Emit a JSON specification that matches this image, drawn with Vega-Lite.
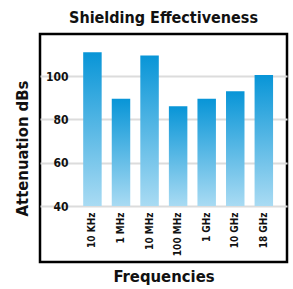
{
  "$schema": "https://vega.github.io/schema/vega-lite/v6.json",
  "autosize": "none",
  "padding": {"left": 40, "top": 34, "right": 6, "bottom": 27},
  "width": 247,
  "height": 228,
  "title": {
    "text": "Shielding Effectiveness",
    "font": "DejaVu Sans Condensed",
    "fontSize": 16,
    "fontWeight": "bold",
    "color": "#111111",
    "offset": 8,
    "anchor": "middle"
  },
  "config": {
    "view": {"stroke": "#000000", "strokeWidth": 2.5},
    "font": "DejaVu Sans Condensed"
  },
  "data": {
    "values": [
      {"freq": "10 KHz", "db": 111},
      {"freq": "1 MHz", "db": 89.5},
      {"freq": "10 MHz", "db": 109.5},
      {"freq": "100 MHz", "db": 86},
      {"freq": "1 GHz", "db": 89.5},
      {"freq": "10 GHz", "db": 93},
      {"freq": "18 GHz", "db": 100.5}
    ]
  },
  "mark": {
    "type": "bar",
    "color": {
      "gradient": "linear",
      "x1": 0, "y1": 0, "x2": 0, "y2": 1,
      "stops": [
        {"offset": 0, "color": "#0895d7"},
        {"offset": 1, "color": "#a9dbf3"}
      ]
    }
  },
  "encoding": {
    "x": {
      "field": "freq",
      "type": "nominal",
      "sort": null,
      "scale": {"paddingInner": 0.353, "paddingOuter": 1.119, "align": 0.756},
      "axis": {
        "title": "Frequencies",
        "titleFont": "DejaVu Sans Condensed",
        "titleFontSize": 16.5,
        "titleFontWeight": "bold",
        "titleColor": "#111111",
        "titlePadding": 13,
        "labelAngle": 270,
        "labelFont": "DejaVu Sans Condensed",
        "labelFontSize": 10,
        "labelFontWeight": "bold",
        "labelColor": "#111111",
        "labelPadding": 2,
        "offset": -52,
        "domain": false,
        "ticks": false
      }
    },
    "y": {
      "field": "db",
      "type": "quantitative",
      "scale": {"domain": [14.15, 119.4], "nice": false, "zero": false},
      "axis": {
        "title": "Attenuation dBs",
        "titleFont": "DejaVu Sans Condensed",
        "titleFontSize": 16.5,
        "titleFontWeight": "bold",
        "titleColor": "#111111",
        "titlePadding": 15,
        "values": [40, 60, 80, 100],
        "labelFont": "DejaVu Sans Condensed",
        "labelFontSize": 12,
        "labelFontWeight": "bold",
        "labelColor": "#111111",
        "labelPadding": 2,
        "offset": -30,
        "domain": false,
        "ticks": false,
        "grid": true,
        "gridColor": "#dcdcdc",
        "gridWidth": 2
      }
    },
    "y2": {"datum": 40}
  }
}
